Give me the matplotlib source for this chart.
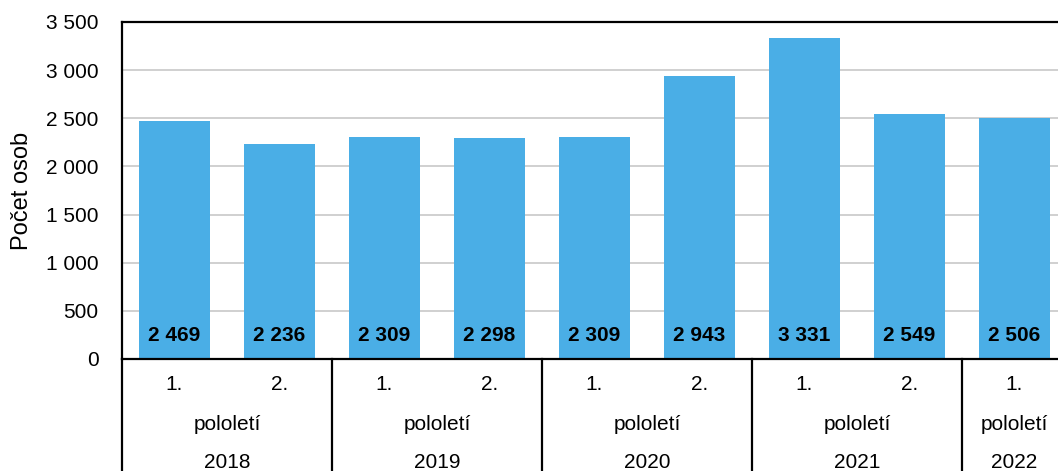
import matplotlib.pyplot as plt
import matplotlib.transforms as mtransforms
import numpy as np

plt.rcParams["font.family"] = ["Liberation Sans", "DejaVu Sans"]
plt.rcParams["font.size"] = 15

halves = ["1.", "2.", "1.", "2.", "1.", "2.", "1.", "2.", "1."]
years = ["2018", "2019", "2020", "2021", "2022"]
year_sizes = [2, 2, 2, 2, 1]
values = [2469, 2236, 2309, 2298, 2309, 2943, 3331, 2549, 2506]
yticks = [0, 500, 1000, 1500, 2000, 2500, 3000, 3500]


def fmt(v):
    return f"{v:,}".replace(",", " ")


fig = plt.figure(figsize=(10.58, 4.71), dpi=100)
ax = fig.add_axes([122 / 1058, 112 / 471, 945 / 1058, 337 / 471])

x = np.arange(len(values))
ax.bar(x, values, width=0.68, color="#4aaee6", zorder=2)
for xi, v in zip(x, values):
    ax.annotate(fmt(v), (xi, 0), xytext=(0, 17), textcoords="offset points",
                ha="center", va="center", fontweight="bold", fontsize=15)

ax.set_xlim(-0.5, len(values) - 0.5)
ax.set_ylim(0, 3500)
ax.set_yticks(yticks)
ax.set_yticklabels([fmt(t) for t in yticks])
ax.tick_params(axis="y", length=0, pad=17)
ax.set_xticks([])
ax.yaxis.grid(True, color="#c8c8c8", linewidth=1.2, zorder=0)
ax.set_axisbelow(True)
for side in ["left", "bottom", "top"]:
    ax.spines[side].set_linewidth(1.6)
    ax.spines[side].set_color("black")
ax.spines["right"].set_visible(False)
ax.set_ylabel("Počet osob", fontsize=17, labelpad=9)

trans = mtransforms.blended_transform_factory(ax.transData, ax.transAxes)
for xi, h in zip(x, halves):
    ax.text(xi, -26 / 337, h, transform=trans, ha="center", va="center")

start = 0
bounds = [-0.5]
for yr, n in zip(years, year_sizes):
    c = start + (n - 1) / 2
    ax.text(c, -65 / 337, "pololetí", transform=trans, ha="center", va="center")
    ax.text(c, -103 / 337, yr, transform=trans, ha="center", va="center")
    start += n
    bounds.append(start - 0.5)

for b in bounds[:-1]:
    ax.plot([b, b], [0, -112 / 337], transform=trans, color="black",
            linewidth=1.6, clip_on=False)

fig.savefig("out.png", dpi=100)
